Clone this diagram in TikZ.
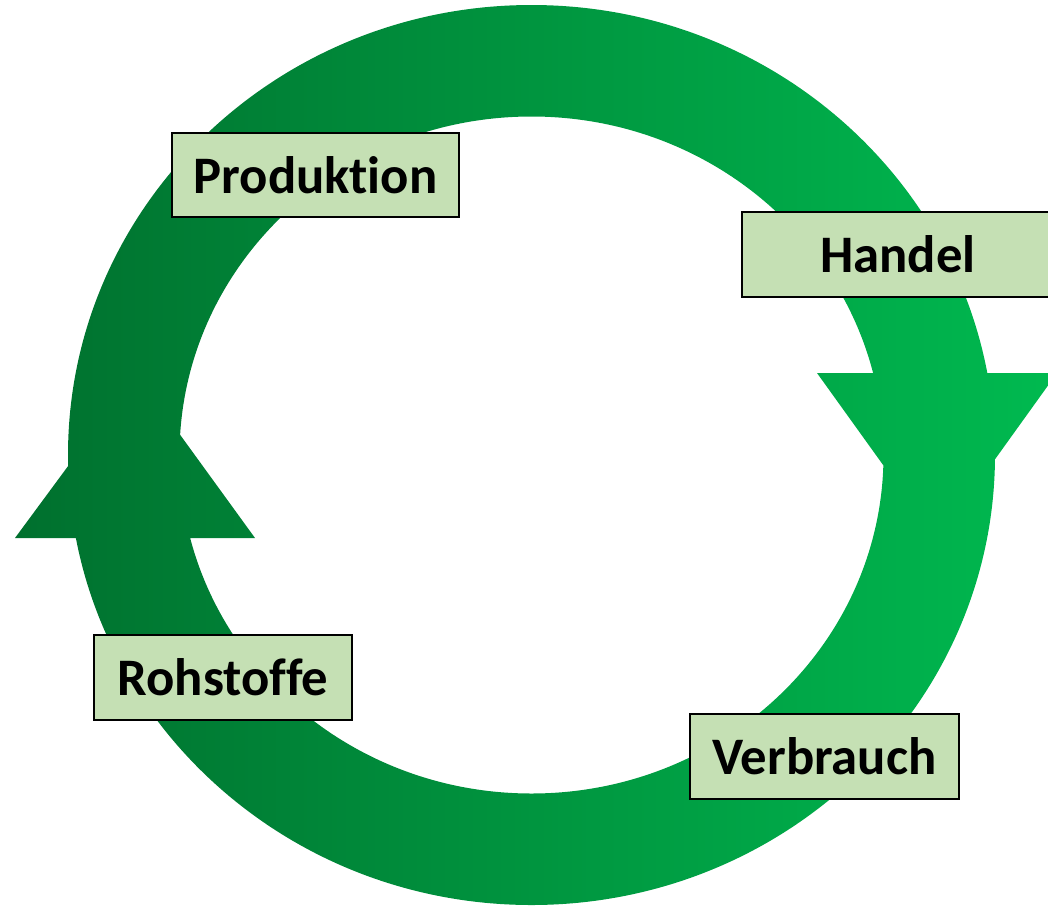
\documentclass[tikz,border=0pt]{standalone}
\usepackage{fontspec}
\setmainfont[Ligatures=NoCommon]{Carlito}
\usepackage{tikz}
\usetikzlibrary{positioning, calc}
\definecolor{cycledark}{RGB}{0, 112, 46}
\definecolor{cyclelight}{RGB}{0, 186, 80}
\definecolor{stagefill}{RGB}{197, 224, 180}

\tikzset{
    stagebox/.style={draw=black, line width=0.9pt, fill=stagefill, minimum height=1.69cm,
        inner sep=0pt, font=\fontsize{30}{36}\selectfont\bfseries}
}

\begin{document}
\begin{tikzpicture}[x=0.02cm, y=-0.02cm]
    % Frame (picture size)
    \useasboundingbox (0,0) rectangle (1048,910);
    \clip (0,0) rectangle (1048,910);

    % The cycle: ring plus two arrow heads, one shading for all
    \shade[left color=cycledark, right color=cyclelight, nonzero rule]
        (531.5,455) ellipse [x radius=463.5, y radius=450]
        (883.5,455) arc [start angle=0, end angle=-360, x radius=352, y radius=338.5]
        (15,538) -- (136,374) -- (255,538) -- cycle   % up, left side
        (817,373) -- (1057,373) -- (937,540) -- cycle; % down, right side

    % Stages
    \node[stagebox, minimum width=5.74cm] (prod) at (315.5,175) {Produktion};
    \node[stagebox, minimum width=6.24cm] (handel) at (898,254.5) {Handel};
    \node[stagebox, minimum width=5.38cm] (verbr) at (824.5,756.5) {Verbrauch};
    \node[stagebox, minimum width=5.16cm] (roh) at (223,677.5) {Rohstoffe};
\end{tikzpicture}
\end{document}
